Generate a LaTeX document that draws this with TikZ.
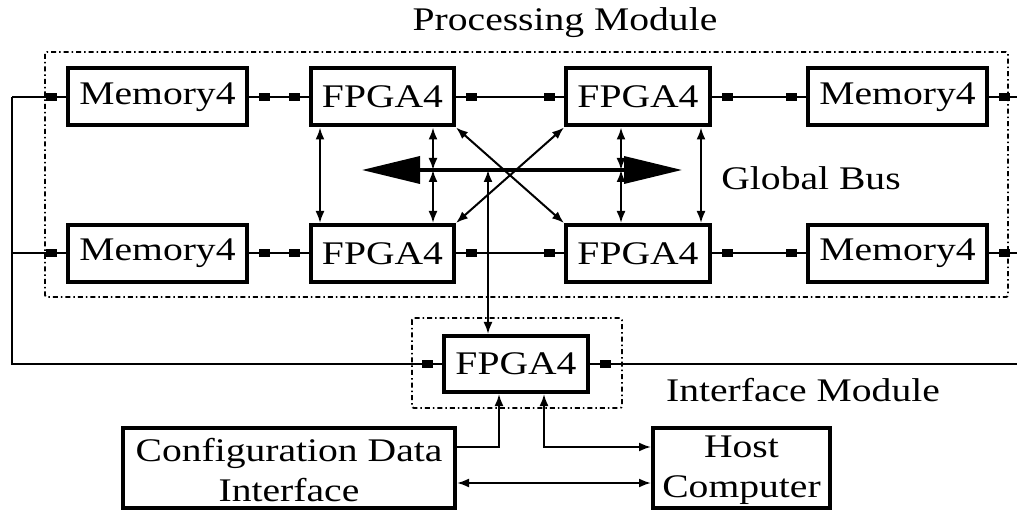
\documentclass[tikz,border=0pt]{standalone}
\usepackage{fontspec}
\setmainfont{Liberation Serif}[FakeStretch=1.2]
\usetikzlibrary{arrows.meta,decorations.markings,calc}
\begin{document}
\begin{tikzpicture}[x=1pt,y=-1pt,
  box/.style={draw,line width=4pt,inner sep=0pt,align=center,font=\fontsize{33}{40}\selectfont},
  lbl/.style={inner sep=0pt,align=center,font=\fontsize{33}{40}\selectfont},
  conn/.style={line width=2pt},
  sqs/.style={postaction={decorate,decoration={markings,mark=at position 15pt with {\fill (-5.5pt,-4pt) rectangle (5.5pt,4pt);}}}},
  sqe/.style={postaction={decorate,decoration={markings,mark=at position -15pt with {\fill (-5.5pt,-4pt) rectangle (5.5pt,4pt);}}}},
  tip/.style={line width=2pt,{Latex[length=12pt,width=9pt]}-{Latex[length=12pt,width=9pt]}},
  tipend/.style={line width=2pt,-{Latex[length=12pt,width=9pt]}},
  module/.style={line width=1.8pt,dash pattern=on 5pt off 3pt on 1.5pt off 3pt,rounded corners=2pt},
  bus/.style={line width=3.5pt,{Triangle[length=58pt,width=27pt]}-{Triangle[length=58pt,width=27pt]}}]
\useasboundingbox (0,0) rectangle (1017,510);

% modules
\draw[module] (45,52) rectangle (1008,297);
\draw[module] (412,318) rectangle (622,408);
\node[lbl] (tpm) at (565,23) {Processing Module};
\node[lbl] (tim) at (803,390) {Interface Module};
\node[lbl] (tgb) at (811,178) {Global Bus};

% boxes
\node[box,minimum width=179pt,minimum height=57pt] (m1) at (157.5,97) {Memory4};
\node[box,minimum width=143pt,minimum height=57pt] (f1) at (382.5,97) {FPGA4};
\node[box,minimum width=144pt,minimum height=57pt] (f2) at (638,97) {FPGA4};
\node[box,minimum width=179pt,minimum height=57pt] (m2) at (897.5,97) {Memory4};
\node[box,minimum width=179pt,minimum height=57pt] (m3) at (157.5,253.5) {Memory4};
\node[box,minimum width=143pt,minimum height=57pt] (f3) at (382.5,253.5) {FPGA4};
\node[box,minimum width=144pt,minimum height=57pt] (f4) at (638,253.5) {FPGA4};
\node[box,minimum width=179pt,minimum height=57pt] (m4) at (897.5,253.5) {Memory4};
\node[box,minimum width=144pt,minimum height=56pt] (fi) at (516,364) {FPGA4};
\node[box,minimum width=332pt,minimum height=80pt] (cfg) at (289,468) {};
\node[lbl] (cfgt) at (289,470.5) {Configuration Data\\Interface};
\node[box,minimum width=177pt,minimum height=80pt] (host) at (741.5,468) {};
\node[lbl] (hostt) at (741.5,470.5) {Host\\Computer};

% outer coordinates
\coordinate (L1) at (12,97);
\coordinate (L2) at (12,253.5);
\coordinate (R1) at (1017,97);
\coordinate (R2) at (1017,253.5);
\coordinate (R3) at (1017,364);

% horizontal connectors
\draw[conn,sqe] (L1) -- (m1.west);
\draw[conn,sqs,sqe] (m1.east) -- (f1.west);
\draw[conn,sqs,sqe] (f1.east) -- (f2.west);
\draw[conn,sqs,sqe] (f2.east) -- (m2.west);
\draw[conn,sqs] (m2.east) -- (R1);
\draw[conn,sqe] (L2) -- (m3.west);
\draw[conn,sqs,sqe] (m3.east) -- (f3.west);
\draw[conn,sqs,sqe] (f3.east) -- (f4.west);
\draw[conn,sqs,sqe] (f4.east) -- (m4.west);
\draw[conn,sqs] (m4.east) -- (R2);
\draw[conn,sqe] (L1) |- (fi.west);
\draw[conn,sqs] (fi.east) -- (R3);

% global bus
\coordinate (BL) at (362,170);
\coordinate (BR) at (682,170);
\draw[bus] (BL) -- (BR);
\coordinate (b1) at (433,170);
\coordinate (b2) at (621,170);
\coordinate (b3) at (488,170);

% vertical connectors
\draw[tip] ([xshift=11pt]f1.south west) -- ([xshift=11pt]f3.north west);
\draw[tip] (b1 |- f1.south) -- (b1);
\draw[tip] (b1) -- (b1 |- f3.north);
\draw[tip] (b2 |- f2.south) -- (b2);
\draw[tip] (b2) -- (b2 |- f4.north);
\draw[tip] ([xshift=-11pt]f2.south east) -- ([xshift=-11pt]f4.north east);
\draw[tip] (b3) -- (b3 |- fi.north);

% diagonals
\draw[tip] (f1.south east) -- (f4.north west);
\draw[tip] (f2.south west) -- (f3.north east);

% bottom connectors
\coordinate (c1) at (499,447);
\coordinate (c2) at (544,447);
\coordinate (c3) at (500,483);
\draw[tipend] (c1 -| cfg.east) -- (c1) -- (c1 |- fi.south);
\draw[tip] (c2 |- fi.south) -- (c2) -- (c2 -| host.west);
\draw[tip] (c3 -| cfg.east) -- (c3 -| host.west);
\end{tikzpicture}
\end{document}
